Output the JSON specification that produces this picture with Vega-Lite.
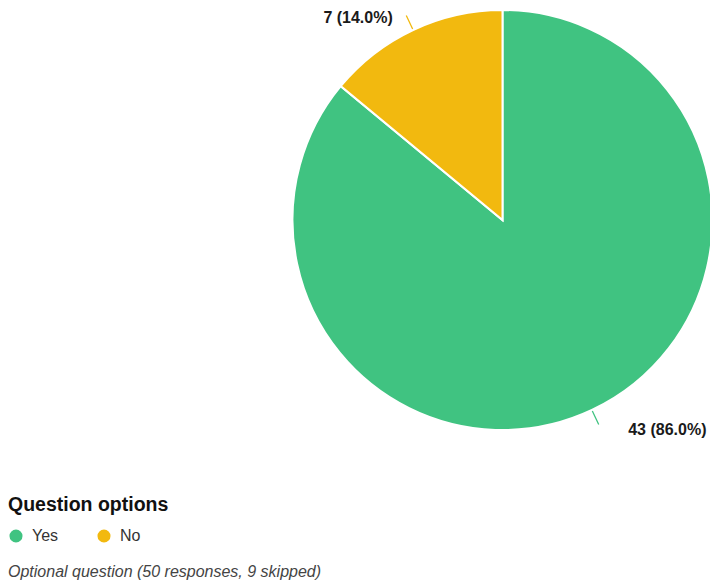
{
  "$schema": "https://vega.github.io/schema/vega-lite/v6.json",
  "autosize": "none",
  "width": 415,
  "height": 420,
  "padding": {"left": 295, "top": 10, "right": 0, "bottom": 153},
  "background": "white",
  "data": {
    "values": [
      {"answer": "Yes", "count": 43, "label": "43 (86.0%)"},
      {"answer": "No", "count": 7, "label": "7 (14.0%)"}
    ]
  },
  "transform": [
    {"window": [{"op": "sum", "field": "count", "as": "cum"}], "sort": [{"field": "count", "order": "descending"}], "frame": [null, 0]},
    {"calculate": "datum.cum - datum.count / 2", "as": "mid"}
  ],
  "title": {
    "text": "Optional question (50 responses, 9 skipped)",
    "orient": "bottom",
    "anchor": "start",
    "frame": "group",
    "font": "Liberation Sans",
    "fontSize": 16,
    "fontStyle": "italic",
    "fontWeight": "normal",
    "color": "#444444",
    "dx": -287,
    "dy": 19,
    "offset": 0
  },
  "layer": [
    {
      "mark": {"type": "arc", "outerRadius": 210, "stroke": "white", "strokeWidth": 2},
      "encoding": {
        "theta": {"field": "count", "type": "quantitative", "stack": true},
        "order": {"field": "count", "type": "quantitative", "sort": "descending"},
        "color": {
          "field": "answer",
          "type": "nominal",
          "scale": {"domain": ["Yes", "No"], "range": ["#40C381", "#F2B90F"]},
          "legend": {
            "title": "Question options",
            "orient": "none",
            "legendX": -287,
            "legendY": 485.5,
            "direction": "horizontal",
            "padding": 0,
            "titleFont": "Liberation Sans",
            "titleFontSize": 19.5,
            "titleFontWeight": "bold",
            "titleColor": "#111111",
            "titlePadding": 13,
            "labelFont": "Liberation Sans",
            "labelFontSize": 16,
            "labelColor": "#333333",
            "labelOffset": 8,
            "symbolType": "circle",
            "symbolSize": 170,
            "symbolStrokeWidth": 0,
            "symbolOpacity": 1,
            "columnPadding": 37
          }
        }
      }
    },
    {
      "mark": {"type": "arc", "filled": false, "innerRadius": 211, "outerRadius": 226, "strokeWidth": 1.3},
      "encoding": {
        "theta": {"field": "mid", "type": "quantitative", "stack": null},
        "theta2": {"field": "mid"},
        "stroke": {
          "field": "answer",
          "type": "nominal",
          "scale": {"domain": ["Yes", "No"], "range": ["#40C381", "#F2B90F"]},
          "legend": null
        }
      }
    },
    {
      "transform": [{"filter": "datum.answer == 'No'"}],
      "mark": {"type": "text", "align": "right", "baseline": "middle", "dx": -13.5, "dy": 2.5, "font": "Liberation Sans", "fontSize": 16, "fontWeight": "bold", "color": "#1a1a1a"},
      "encoding": {
        "theta": {"field": "mid", "type": "quantitative", "stack": null},
        "radius": {"value": 226},
        "text": {"field": "label"}
      }
    },
    {
      "transform": [{"filter": "datum.answer == 'Yes'"}],
      "mark": {"type": "text", "align": "left", "baseline": "middle", "dx": 29.5, "dy": 5.5, "font": "Liberation Sans", "fontSize": 16, "fontWeight": "bold", "color": "#1a1a1a"},
      "encoding": {
        "theta": {"field": "mid", "type": "quantitative", "stack": null},
        "radius": {"value": 226},
        "text": {"field": "label"}
      }
    }
  ],
  "config": {"view": {"stroke": null}, "font": "Liberation Sans"}
}
